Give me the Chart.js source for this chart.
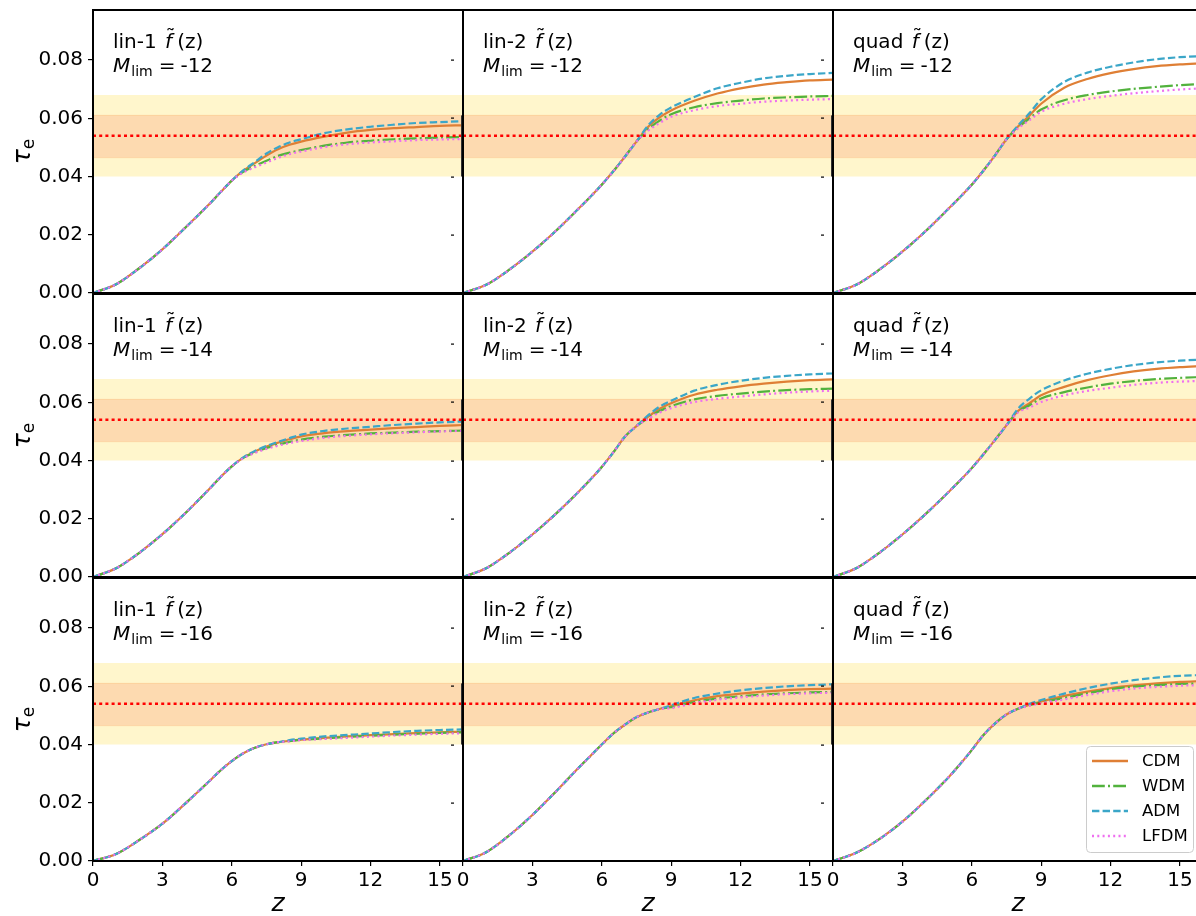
<!DOCTYPE html>
<html lang="en">
<head>
<meta charset="UTF-8">
<title>tau_e vs z</title>
<script src="https://cdn.jsdelivr.net/npm/chart.js@4.4.0/dist/chart.umd.min.js"></script>
<style>
  html, body { margin: 0; padding: 0; background: #fff; overflow: hidden; }
  #fig { position: relative; width: 1196px; height: 916px; overflow: hidden; }
  #fig canvas { position: absolute; }
</style>
</head>
<body>
<div id="fig"></div>
<script>
// redshift grid shared by all curves
const zGrid = [0, 1, 2, 3, 4, 5, 5.5, 6, 6.5, 7, 7.5, 8, 8.5, 9, 10, 11, 12, 13, 14, 15, 16];
const models = ['CDM', 'WDM', 'ADM', 'LFDM'];

// each panel: common low-z part (base) then one tail per model
const lin1_m12 = {
  base: [0, 0.0030, 0.0085, 0.0150, 0.0225, 0.0303, 0.0345, 0.0386],
  CDM:  [0.0420, 0.0446, 0.0472, 0.0494, 0.0509, 0.0520, 0.0537, 0.0551, 0.0560, 0.0566, 0.0570, 0.0574, 0.0576],
  WDM:  [0.0416, 0.0436, 0.0454, 0.0471, 0.0482, 0.0491, 0.0506, 0.0517, 0.0523, 0.0528, 0.0531, 0.0534, 0.0536],
  ADM:  [0.0421, 0.0450, 0.0479, 0.0501, 0.0517, 0.0528, 0.0549, 0.0562, 0.0571, 0.0578, 0.0584, 0.0587, 0.0590],
  LFDM: [0.0414, 0.0432, 0.0448, 0.0464, 0.0477, 0.0486, 0.0501, 0.0511, 0.0517, 0.0521, 0.0525, 0.0527, 0.0529]
};
const lin1_m14 = {
  base: [0, 0.0030, 0.0083, 0.0147, 0.0220, 0.0300, 0.0342, 0.0380],
  CDM:  [0.0410, 0.0431, 0.0448, 0.0461, 0.0473, 0.0483, 0.0494, 0.0501, 0.0506, 0.0511, 0.0515, 0.0519, 0.0522],
  WDM:  [0.0409, 0.0428, 0.0443, 0.0455, 0.0464, 0.0472, 0.0482, 0.0488, 0.0493, 0.0496, 0.0499, 0.0501, 0.0503],
  ADM:  [0.0411, 0.0433, 0.0450, 0.0464, 0.0477, 0.0489, 0.0502, 0.0510, 0.0516, 0.0522, 0.0527, 0.0531, 0.0534],
  LFDM: [0.0408, 0.0426, 0.0440, 0.0451, 0.0460, 0.0467, 0.0478, 0.0485, 0.0490, 0.0494, 0.0497, 0.0500, 0.0502]
};
const lin1_m16 = {
  base: [0, 0.0024, 0.0072, 0.0128, 0.0198, 0.0272, 0.0310, 0.0343, 0.0370, 0.0389, 0.0401, 0.0408],
  CDM:  [0.0413, 0.0417, 0.0423, 0.0428, 0.0432, 0.0436, 0.0439, 0.0442, 0.0444],
  WDM:  [0.0412, 0.0416, 0.0421, 0.0426, 0.0430, 0.0434, 0.0437, 0.0440, 0.0442],
  ADM:  [0.0415, 0.0420, 0.0428, 0.0433, 0.0438, 0.0443, 0.0447, 0.0450, 0.0452],
  LFDM: [0.0411, 0.0415, 0.0419, 0.0423, 0.0427, 0.0431, 0.0434, 0.0437, 0.0439]
};
const lin2_m12 = {
  base: [0, 0.0028, 0.0080, 0.0142, 0.0212, 0.0290, 0.0330, 0.0372, 0.0418, 0.0468, 0.0520],
  CDM:  [0.0570, 0.0603, 0.0627, 0.0660, 0.0685, 0.0703, 0.0716, 0.0724, 0.0730, 0.0733],
  WDM:  [0.0562, 0.0592, 0.0614, 0.0638, 0.0652, 0.0661, 0.0668, 0.0672, 0.0675, 0.0677],
  ADM:  [0.0575, 0.0612, 0.0637, 0.0673, 0.0703, 0.0722, 0.0737, 0.0746, 0.0752, 0.0756],
  LFDM: [0.0557, 0.0584, 0.0605, 0.0628, 0.0642, 0.0650, 0.0657, 0.0661, 0.0664, 0.0666]
};
const lin2_m14 = {
  base: [0, 0.0030, 0.0083, 0.0146, 0.0216, 0.0293, 0.0334, 0.0378, 0.0428, 0.0482, 0.0518],
  CDM:  [0.0550, 0.0578, 0.0597, 0.0626, 0.0643, 0.0655, 0.0664, 0.0671, 0.0676, 0.0679],
  WDM:  [0.0546, 0.0570, 0.0587, 0.0610, 0.0622, 0.0630, 0.0637, 0.0642, 0.0645, 0.0647],
  ADM:  [0.0555, 0.0585, 0.0605, 0.0640, 0.0660, 0.0674, 0.0684, 0.0691, 0.0696, 0.0699],
  LFDM: [0.0543, 0.0565, 0.0580, 0.0601, 0.0612, 0.0620, 0.0627, 0.0633, 0.0637, 0.0640]
};
const lin2_m16 = {
  base: [0, 0.0030, 0.0088, 0.0158, 0.0237, 0.0320, 0.0360, 0.0400, 0.0438, 0.0468, 0.0494, 0.0510, 0.0522],
  CDM:  [0.0532, 0.0552, 0.0566, 0.0575, 0.0582, 0.0587, 0.0590, 0.0592],
  WDM:  [0.0528, 0.0546, 0.0558, 0.0566, 0.0572, 0.0576, 0.0579, 0.0581],
  ADM:  [0.0535, 0.0560, 0.0575, 0.0586, 0.0594, 0.0600, 0.0604, 0.0607],
  LFDM: [0.0525, 0.0542, 0.0554, 0.0562, 0.0568, 0.0573, 0.0576, 0.0578]
};
const quad_m12 = {
  base: [0, 0.0028, 0.0080, 0.0142, 0.0212, 0.0290, 0.0330, 0.0372, 0.0420, 0.0472, 0.0528],
  CDM:  [0.0572, 0.0610, 0.0650, 0.0705, 0.0735, 0.0755, 0.0769, 0.0779, 0.0785, 0.0789],
  WDM:  [0.0568, 0.0600, 0.0630, 0.0662, 0.0680, 0.0692, 0.0701, 0.0708, 0.0714, 0.0718],
  ADM:  [0.0575, 0.0618, 0.0665, 0.0725, 0.0757, 0.0777, 0.0792, 0.0803, 0.0810, 0.0814],
  LFDM: [0.0565, 0.0594, 0.0622, 0.0650, 0.0666, 0.0677, 0.0686, 0.0693, 0.0699, 0.0703]
};
const quad_m14 = {
  base: [0, 0.0030, 0.0083, 0.0146, 0.0216, 0.0292, 0.0332, 0.0374, 0.0421, 0.0470, 0.0521],
  CDM:  [0.0570, 0.0597, 0.0624, 0.0653, 0.0676, 0.0693, 0.0706, 0.0715, 0.0721, 0.0725],
  WDM:  [0.0568, 0.0590, 0.0613, 0.0635, 0.0651, 0.0664, 0.0673, 0.0680, 0.0684, 0.0687],
  ADM:  [0.0578, 0.0613, 0.0641, 0.0675, 0.0698, 0.0715, 0.0728, 0.0737, 0.0743, 0.0747],
  LFDM: [0.0565, 0.0582, 0.0601, 0.0624, 0.0639, 0.0650, 0.0660, 0.0667, 0.0671, 0.0674]
};
const quad_m16 = {
  base: [0, 0.0028, 0.0075, 0.0135, 0.0208, 0.0288, 0.0333, 0.0381, 0.0432, 0.0472, 0.0503, 0.0523],
  CDM:  [0.0537, 0.0548, 0.0567, 0.0582, 0.0594, 0.0603, 0.0610, 0.0615, 0.0618],
  WDM:  [0.0535, 0.0545, 0.0560, 0.0576, 0.0590, 0.0599, 0.0604, 0.0608, 0.0610],
  ADM:  [0.0540, 0.0553, 0.0575, 0.0594, 0.0609, 0.0621, 0.0630, 0.0636, 0.0639],
  LFDM: [0.0533, 0.0542, 0.0555, 0.0570, 0.0583, 0.0592, 0.0598, 0.0602, 0.0604]
};

// Planck bands and central value
const tauPlanck = 0.054;
const band1 = [0.0465, 0.0610];
const band2 = [0.0400, 0.0680];

const fNames = ['lin-1', 'lin-2', 'quad'];
const mLims = ['-12', '-14', '-16'];
const grid = [
  [lin1_m12, lin2_m12, quad_m12],
  [lin1_m14, lin2_m14, quad_m14],
  [lin1_m16, lin2_m16, quad_m16]
];
const yTicks = [0, 0.02, 0.04, 0.06, 0.08];

const colors = { CDM: '#df7f35', WDM: '#52b23d', ADM: '#3ba6c8', LFDM: '#ef6ff0' };
const dashes = { CDM: [], WDM: [12.8, 3.2, 2, 3.2], ADM: [7.4, 3.2], LFDM: [2, 3.3] };
const orders = { CDM: 4, WDM: 3, ADM: 2, LFDM: 1 };

const FONT = '"DejaVu Sans", sans-serif';
Chart.defaults.font.family = FONT;

// layout of the panel grid (px)
const colLeft = [93, 463, 833];
const rowTop = [10, 294, 578];
const PW = 370, PH = 283, M = 20, YAX = 93, XAX = 55;
const yMax = 0.0972;

const fig = document.getElementById('fig');

function series(panel, name) {
  const vals = panel.base.concat(panel[name]);
  return zGrid.map((z, i) => ({ x: z, y: vals[i] }));
}
function hline(v) { return [{ x: 0, y: v }, { x: 16, y: v }]; }

function decor(r, c) {
  return {
    id: 'decor' + r + c,
    afterDatasetsDraw(chart) {
      const ctx = chart.ctx, ca = chart.chartArea, ys = chart.scales.y;
      ctx.save();
      // little marks near right edge (shared y ticks)
      if (c < 2) {
        ctx.fillStyle = '#000';
        yTicks.slice(1).forEach(v => {
          const py = Math.round(ys.getPixelForValue(v));
          ctx.fillRect(ca.right - 12, py - 0.5, 3, 1.2);
        });
        ctx.strokeStyle = '#333';
        ctx.lineWidth = 1;
        ctx.beginPath();
        ctx.moveTo(ca.right - 1.5, ys.getPixelForValue(band1[1]));
        ctx.lineTo(ca.right - 1.5, ys.getPixelForValue(band2[0]));
        ctx.stroke();
      }
      // frame
      ctx.strokeStyle = '#000';
      ctx.lineWidth = 2;
      ctx.strokeRect(ca.left, ca.top, ca.right - ca.left, ca.bottom - ca.top);

      // panel label
      ctx.fillStyle = '#000';
      ctx.textBaseline = 'alphabetic';
      ctx.textAlign = 'left';
      const x0 = ca.left + 20, y1 = ca.top + 38, y2 = ca.top + 62;
      ctx.font = '20px ' + FONT;
      const lab = fNames[c] + ' ';
      ctx.fillText(lab, x0, y1);
      let x = x0 + ctx.measureText(lab).width + 2;
      ctx.font = 'italic 20px ' + FONT;
      ctx.fillText('f', x, y1);
      const fw = ctx.measureText('f').width;
      ctx.font = '20px ' + FONT;
      const tw = ctx.measureText('\u02DC').width;
      ctx.fillText('\u02DC', x + fw / 2 - tw / 2 + 2, y1 - 5);
      ctx.fillText('(z)', x + fw + 5, y1);

      ctx.font = 'italic 20px ' + FONT;
      ctx.fillText('M', x0, y2);
      x = x0 + ctx.measureText('M').width + 1;
      ctx.font = '14px ' + FONT;
      ctx.fillText('lim', x, y2 + 4);
      x += ctx.measureText('lim').width + 6;
      ctx.font = '20px ' + FONT;
      ctx.fillText('=', x, y2);
      x += ctx.measureText('=').width + 5;
      ctx.fillText(mLims[r], x, y2);

      // axis titles
      if (c === 0) {
        ctx.save();
        ctx.translate(ca.left - 63, (ca.top + ca.bottom) / 2);
        ctx.rotate(-Math.PI / 2);
        ctx.font = 'italic 25px ' + FONT;
        const w1 = ctx.measureText('\u03C4').width;
        ctx.font = '17px ' + FONT;
        const w2 = ctx.measureText('e').width;
        const u0 = -(w1 + w2) / 2;
        ctx.font = 'italic 25px ' + FONT;
        ctx.fillText('\u03C4', u0, 0);
        ctx.font = '17px ' + FONT;
        ctx.fillText('e', u0 + w1, 4);
        ctx.restore();
      }
      if (r === 2) {
        ctx.font = 'italic 25px ' + FONT;
        ctx.textAlign = 'center';
        ctx.fillText('z', (ca.left + ca.right) / 2, ca.bottom + 50);
        ctx.textAlign = 'left';
      }

      // legend in the last panel
      if (r === 2 && c === 2) {
        const bw = 107, bh = 106;
        const bx = ca.right - 10 - bw, by = ca.bottom - 9 - bh;
        ctx.fillStyle = 'rgba(255,255,255,0.8)';
        ctx.strokeStyle = '#cccccc';
        ctx.lineWidth = 1;
        ctx.beginPath();
        ctx.roundRect(bx + 0.5, by + 0.5, bw, bh, 4);
        ctx.fill();
        ctx.stroke();
        ctx.font = '16.5px ' + FONT;
        ctx.textBaseline = 'middle';
        models.forEach((m, i) => {
          const yy = by + 15 + i * 25;
          ctx.strokeStyle = colors[m];
          ctx.lineWidth = 2.6;
          ctx.setLineDash(dashes[m]);
          ctx.beginPath();
          ctx.moveTo(bx + 6, yy);
          ctx.lineTo(bx + 42, yy);
          ctx.stroke();
          ctx.setLineDash([]);
          ctx.fillStyle = '#000';
          ctx.fillText(m, bx + 56, yy + 1);
        });
      }
      ctx.restore();
    }
  };
}

for (let r = 0; r < 3; r++) {
  for (let c = 0; c < 3; c++) {
    const panel = grid[r][c];
    const padL = c === 0 ? 0 : M;
    const cw = (c === 0 ? YAX : M) + PW + M;
    const ch = M + PH + (r === 2 ? XAX : M);
    const cv = document.createElement('canvas');
    cv.width = cw; cv.height = ch;
    cv.style.left = (c === 0 ? 0 : colLeft[c] - M) + 'px';
    cv.style.top = (rowTop[r] - M) + 'px';
    cv.style.width = cw + 'px'; cv.style.height = ch + 'px';
    fig.appendChild(cv);

    const datasets = [
      { data: hline(band2[1]), fill: '+1', backgroundColor: '#fff6cc', borderWidth: 0, order: 10 },
      { data: hline(band2[0]), fill: false, borderWidth: 0, order: 10 },
      { data: hline(band1[1]), fill: '+1', backgroundColor: '#fddab0', borderColor: '#fcd09c', borderWidth: 1, order: 9 },
      { data: hline(band1[0]), fill: false, borderColor: '#fcd09c', borderWidth: 1, order: 9 }
    ];
    models.forEach(m => {
      datasets.push({
        label: m, data: series(panel, m), borderColor: colors[m], borderDash: dashes[m],
        borderWidth: 2.2, fill: false, cubicInterpolationMode: 'monotone', order: orders[m]
      });
    });
    datasets.push({ data: hline(tauPlanck), borderColor: '#ff0000', borderWidth: 2.5, borderDash: [3, 3.2], fill: false, order: 0 });

    const xScale = {
      type: 'linear', min: 0, max: 16, display: r === 2,
      ticks: { stepSize: 3, includeBounds: false, autoSkip: false, maxRotation: 0, color: '#000', font: { size: 20 }, padding: 3 },
      grid: { display: true, drawOnChartArea: false, drawTicks: true, tickLength: 5, color: '#000', lineWidth: 1.2 },
      border: { display: false }
    };
    if (r === 2) xScale.afterFit = s => { s.height = XAX; };
    const yScale = {
      min: 0, max: yMax, display: c === 0,
      ticks: { stepSize: 0.02, includeBounds: false, color: '#000', font: { size: 20 }, padding: 5, callback: v => v.toFixed(2) },
      grid: { display: true, drawOnChartArea: false, drawTicks: true, tickLength: 5, color: '#000', lineWidth: 1.2 },
      border: { display: false }
    };
    if (c === 0) yScale.afterFit = s => { s.width = YAX; };

    new Chart(cv, {
      type: 'line',
      data: { datasets },
      options: {
        responsive: false, animation: false, devicePixelRatio: 1,
        layout: { padding: { left: padL, right: M, top: M, bottom: r === 2 ? 0 : M } },
        elements: { point: { radius: 0 } },
        datasets: { line: { clip: 0 } },
        plugins: { legend: { display: false }, tooltip: { enabled: false } },
        scales: { x: xScale, y: yScale }
      },
      plugins: [decor(r, c)]
    });
  }
}
</script>
</body>
</html>
